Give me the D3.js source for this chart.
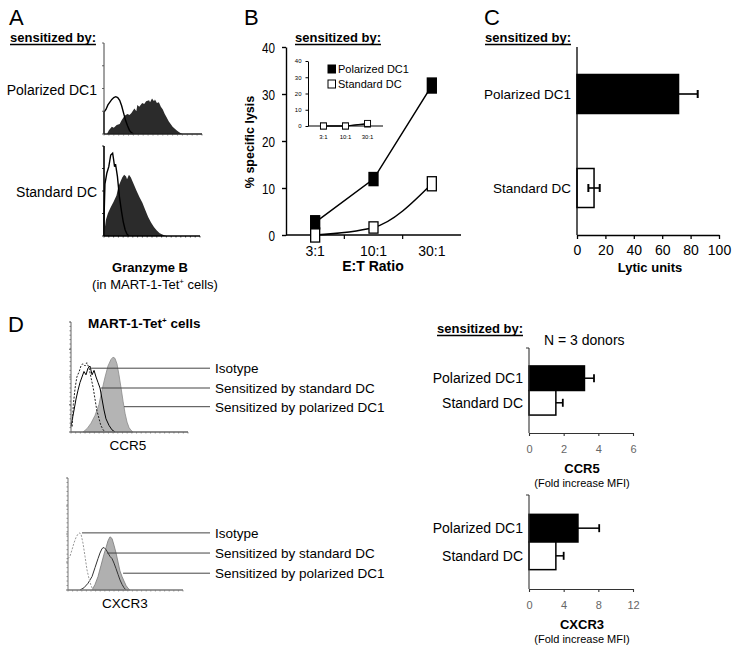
<!DOCTYPE html>
<html>
<head>
<meta charset="utf-8">
<script src="https://cdn.jsdelivr.net/npm/d3@7/dist/d3.min.js"></script>
<style>
html,body{margin:0;padding:0;background:#fff;}
svg{display:block;font-family:Arial,"Liberation Sans",Helvetica,sans-serif;}
</style>
</head>
<body>
<svg id="fig" width="739" height="650"></svg>
<script>
// ---------------- data ----------------
const groups = ["Polarized DC1", "Standard DC"];
const etRatios = ["3:1", "10:1", "30:1"];
const lysisPolarized = [2.7, 11.9, 31.8];
const lysisPolarizedErr = [1.4, 1.4, 1.6];
const lysisStandard = [0.0, 1.6, 10.9];
const lysisStandardErr = [1.5, 1.2, 1.5];
const lysisTicks = [0, 10, 20, 30, 40];
const insetPolarized = [0, 0, 1.2];
const insetStandard = [0, 0, 1.6];
const lyticUnits = [71.5, 12];
const lyticErr = [13.5, 4];
const lyticTicks = [0, 20, 40, 60, 80, 100];
const ccr5Fold = [3.2, 1.55];
const ccr5Err = [0.55, 0.4];
const ccr5Ticks = [0, 2, 4, 6];
const cxcr3Fold = [5.65, 3.1];
const cxcr3Err = [2.45, 0.9];
const cxcr3Ticks = [0, 4, 8, 12];
const histLegend = ["Isotype", "Sensitized by standard DC", "Sensitized by polarized DC1"];

// histograms: [channel 0-100, relative count 0-1]
const gzbPolarizedControl = [[0,0],[0,0.24],[2,0.27],[4,0.32],[6,0.35],[8,0.38],[10,0.4],[12,0.41],[14,0.4],[16,0.37],[18,0.31],[20,0.23],[22,0.15],[24,0.09],[26,0.04],[28,0.015],[30,0]];
const gzbPolarizedStain = [[3,0],[5,0.04],[8,0.08],[10,0.07],[13,0.1],[16,0.11],[18,0.15],[21,0.2],[24,0.22],[26,0.21],[28,0.23],[31,0.28],[33,0.25],[34,0.32],[36,0.3],[39,0.34],[41,0.33],[43,0.36],[46,0.37],[47,0.35],[49,0.39],[51,0.36],[52,0.38],[54,0.34],[56,0.35],[58,0.3],[60,0.27],[62,0.22],[64,0.18],[66,0.14],[68,0.11],[70,0.08],[72,0.06],[74,0.04],[76,0.025],[78,0.01],[80,0]];
const gzbStandardControl = [[0,0],[0,0.18],[1,0.58],[3,0.7],[5,0.77],[7,0.9],[9,0.92],[10,0.85],[11,0.77],[12,0.8],[14,0.66],[16,0.44],[18,0.29],[20,0.16],[22,0.07],[24,0.02],[26,0]];
const gzbStandardStain = [[1,0.1],[2,0.18],[4,0.25],[7,0.32],[10,0.38],[13,0.45],[15,0.55],[17,0.6],[19,0.65],[21,0.68],[23,0.66],[24,0.63],[26,0.68],[28,0.65],[30,0.6],[32,0.55],[34,0.5],[37,0.43],[40,0.37],[43,0.29],[46,0.21],[49,0.15],[52,0.1],[55,0.06],[58,0.03],[62,0.01],[65,0]];

const ccr5Isotype = [[1,0.05],[2,0.25],[3.5,0.4],[5,0.5],[7,0.55],[8.5,0.6],[10,0.62],[12,0.6],[13.5,0.63],[15.5,0.58],[17,0.5],[19,0.4],[20.5,0.3],[22,0.2],[24,0.12],[25.5,0.06],[27.5,0.02],[29,0]];
const ccr5Standard = [[0,0.05],[1.7,0.15],[2.6,0.2],[4.3,0.3],[6,0.38],[7.7,0.45],[9.4,0.5],[11.1,0.55],[12.8,0.52],[14.5,0.58],[16.2,0.6],[18,0.52],[19.7,0.56],[21.4,0.5],[23.1,0.45],[24.8,0.4],[26.5,0.3],[28.2,0.2],[29.9,0.12],[32.5,0.06],[35,0.02],[37.6,0]];
const ccr5Polarized = [[10.3,0],[13.7,0.03],[17.1,0.08],[20.5,0.15],[23.9,0.25],[26.5,0.38],[29.1,0.5],[31.6,0.6],[34.2,0.66],[35.9,0.68],[37.6,0.67],[39.3,0.62],[41,0.52],[42.8,0.4],[44.5,0.28],[46.2,0.17],[47.9,0.09],[49.6,0.04],[51.3,0.015],[53,0]];
const ccr5Leaders = [[16.2,0.58],[25.6,0.4],[45.3,0.23]];

const cxcr3Isotype = [[0,0.28],[1.7,0.3],[3.5,0.36],[5.2,0.42],[7,0.47],[8.7,0.5],[10.4,0.51],[11.3,0.5],[13,0.42],[14.8,0.3],[16.5,0.18],[18.3,0.1],[20,0.04],[21.8,0]];
const cxcr3Standard = [[10.4,0],[13.9,0.02],[17.4,0.06],[20.9,0.12],[23.5,0.2],[26.1,0.28],[27.8,0.33],[29.6,0.37],[31.3,0.38],[33.1,0.36],[34.8,0.33],[36.5,0.3],[38.3,0.28],[40,0.24],[41.8,0.19],[43.5,0.14],[45.2,0.09],[47,0.05],[48.7,0.02],[50.5,0]];
const cxcr3Polarized = [[20.9,0],[23.5,0.05],[26.1,0.12],[28.7,0.22],[31.3,0.32],[33.1,0.38],[34.8,0.44],[36.5,0.475],[38.3,0.46],[40,0.4],[41.8,0.33],[43.5,0.25],[45.2,0.17],[47,0.12],[48.7,0.08],[50.5,0.04],[52.2,0.015],[53.9,0]];
const cxcr3Leaders = [[12.2,0.51],[33.9,0.33],[47.9,0.15]];

// ---------------- helpers ----------------
const svg = d3.select("#fig");
svg.append("rect").attr("width", 739).attr("height", 650).attr("fill", "#fff");

function txt(x, y, s, size, o = {}) {
  const t = svg.append("text").attr("x", x).attr("y", y).attr("font-size", size)
    .attr("text-anchor", o.anchor || "start").attr("fill", o.fill || "#000");
  if (o.bold) t.attr("font-weight", "bold");
  if (o.family) t.attr("font-family", o.family);
  if (o.transform) t.attr("transform", o.transform);
  t.text(s);
  return t;
}
function underlined(x, y, s, size) {
  const t = txt(x, y, s, size, { bold: true });
  const w = t.node().getComputedTextLength();
  svg.append("line").attr("x1", x).attr("x2", x + w).attr("y1", y + 2.5).attr("y2", y + 2.5)
    .attr("stroke", "#000").attr("stroke-width", 1.3);
}
function tetText(x, y, size, bold, anchor) {
  const t = svg.append("text").attr("x", x).attr("y", y).attr("font-size", size)
    .attr("text-anchor", anchor).attr("fill", "#000");
  if (bold) t.attr("font-weight", "bold");
  return t;
}
function narrow(sel, f) {
  sel.each(function () {
    const w = this.getComputedTextLength();
    d3.select(this).attr("textLength", w * f).attr("lengthAdjust", "spacingAndGlyphs");
  });
}

// ---------------- panel letters ----------------
txt(9, 25, "A", 22);
txt(244, 25, "B", 22);
txt(484, 25, "C", 22);
txt(8, 332, "D", 22);

// ---------------- Panel A: granzyme B histograms ----------------
underlined(10, 42, "sensitized by:", 13);

function flowHist(cfg) {
  const x = d3.scaleLinear().domain([0, 100]).range([cfg.x0, cfg.x1]);
  const y = d3.scaleLinear().domain([0, 1]).range([cfg.base, cfg.top]);
  const g = svg.append("g");
  cfg.layers.forEach(L => {
    if (L.type === "fill") {
      g.append("path").datum(L.data)
        .attr("d", d3.area().x(d => x(d[0])).y0(y(0)).y1(d => y(d[1])))
        .attr("fill", L.fill).attr("stroke", L.stroke || "none").attr("stroke-width", L.width || 1);
    } else {
      g.append("path").datum(L.data)
        .attr("d", d3.line().x(d => x(d[0])).y(d => y(d[1])))
        .attr("fill", "none").attr("stroke", L.stroke).attr("stroke-width", L.width || 1)
        .attr("stroke-dasharray", L.dash || null);
    }
  });
  // axes
  g.append("line").attr("x1", x(0)).attr("x2", x(0)).attr("y1", y(1)).attr("y2", y(0))
    .attr("stroke", cfg.axis).attr("stroke-width", cfg.axisW || 1);
  g.append("line").attr("x1", x(0)).attr("x2", x(100)).attr("y1", y(0)).attr("y2", y(0))
    .attr("stroke", cfg.base_c || cfg.axis).attr("stroke-width", 1.3);
  const yt = d3.range(0, 1.0001, cfg.yStep);
  g.selectAll(null).data(yt).join("line")
    .attr("x1", x(0) - 2).attr("x2", x(0)).attr("y1", d => y(d)).attr("y2", d => y(d))
    .attr("stroke", cfg.axis).attr("stroke-width", 0.8);
  const xt = d3.range(0, 100.001, cfg.xStep);
  g.selectAll(null).data(xt).join("line")
    .attr("x1", d => x(d)).attr("x2", d => x(d)).attr("y1", y(0)).attr("y2", y(0) + 1.5)
    .attr("stroke", cfg.axis).attr("stroke-width", 0.7);
  return { x, y, g };
}

flowHist({ x0: 104, x1: 202, top: 43, base: 134, axis: "#444", base_c: "#222", yStep: 0.25, xStep: 5,
  layers: [
    { type: "fill", data: gzbPolarizedStain, fill: "#2b2b2b" },
    { type: "line", data: gzbPolarizedControl, stroke: "#000", width: 1.4 }
  ] });
flowHist({ x0: 104, x1: 200, top: 146, base: 236, axis: "#000", axisW: 1.6, yStep: 0.25, xStep: 5,
  layers: [
    { type: "fill", data: gzbStandardStain, fill: "#2b2b2b" },
    { type: "line", data: gzbStandardControl, stroke: "#000", width: 1.4 }
  ] });
txt(97, 95, groups[0], 14, { anchor: "end" });
txt(97, 197, groups[1], 14, { anchor: "end" });
txt(150, 272, "Granzyme B", 13, { anchor: "middle", bold: true });
{
  const t = tetText(155, 289, 13, false, "middle");
  t.append("tspan").text("(in MART-1-Tet");
  t.append("tspan").attr("font-size", 8).attr("dy", -5).text("+");
  t.append("tspan").attr("dy", 5).text(" cells)");
}

// ---------------- Panel B: % specific lysis ----------------
underlined(295, 42, "sensitized by:", 13);
{
  const x = d3.scalePoint().domain(etRatios).range([286, 461]).padding(0.5);
  const y = d3.scaleLinear().domain([0, 40]).range([235, 47]);
  const g = svg.append("g");
  const yAx = g.append("g").attr("transform", "translate(286,0)")
    .call(d3.axisLeft(y).tickValues(lysisTicks).tickSize(4).tickSizeOuter(0).tickPadding(7).tickFormat(d3.format("d")));
  yAx.selectAll("text").attr("font-size", 15).attr("fill", "#000").attr("dy", "0.36em");
  narrow(yAx.selectAll("text"), 0.78);
  yAx.selectAll("path,line").attr("stroke", "#000").attr("stroke-width", 1.4);
  g.append("line").attr("x1", 286).attr("x2", 461).attr("y1", y(0)).attr("y2", y(0))
    .attr("stroke", "#000").attr("stroke-width", 1.4);
  const mids = [0, 1].map(i => (x(etRatios[i]) + x(etRatios[i + 1])) / 2);
  g.selectAll(null).data(mids).join("line")
    .attr("x1", d => d).attr("x2", d => d).attr("y1", y(0)).attr("y2", y(0) + 4)
    .attr("stroke", "#000").attr("stroke-width", 1.2);
  g.selectAll(null).data(etRatios).join("text")
    .attr("x", d => x(d)).attr("y", 256).attr("text-anchor", "middle").attr("font-size", 14).text(d => d);
  txt(373, 271, "E:T Ratio", 14, { anchor: "middle", bold: true });
  txt(0, 0, "% specific lysis", 12.5, { anchor: "middle", bold: true, transform: "translate(254,142) rotate(-90)" });

  const series = [
    { v: lysisStandard, e: lysisStandardErr, fill: "#fff", curve: d3.curveMonotoneX },
    { v: lysisPolarized, e: lysisPolarizedErr, fill: "#000", curve: d3.curveLinear }
  ];
  series.forEach(s => {
    const pts = etRatios.map((c, i) => ({ c, v: s.v[i], e: s.e[i] }));
    const line = d3.line().x(d => x(d.c)).y(d => y(d.v)).curve(s.curve);
    g.append("path").datum(pts).attr("d", line).attr("fill", "none").attr("stroke", "#000").attr("stroke-width", 1.5);
  });
  series.forEach(s => {
    const pts = etRatios.map((c, i) => ({ c, v: s.v[i], e: s.e[i] }));
    g.selectAll(null).data(pts).join("rect")
      .attr("x", d => x(d.c) - 4.5).attr("width", 9)
      .attr("y", d => Math.min(y(d.v + d.e), y(d.v) - 4.5))
      .attr("height", d => Math.max(y(d.v - d.e) - y(d.v + d.e), 9))
      .attr("fill", s.fill).attr("stroke", "#000").attr("stroke-width", 1.3);
  });

  // inset
  const xi = d3.scalePoint().domain(etRatios).range([308, 383]).padding(0.7);
  const yi = d3.scaleLinear().domain([0, 40]).range([126, 61]);
  const yiAx = g.append("g").attr("transform", "translate(308,0)")
    .call(d3.axisLeft(yi).tickValues(lysisTicks).tickSize(2.5).tickSizeOuter(0).tickPadding(4));
  yiAx.selectAll("text").attr("font-size", 6).attr("fill", "#000");
  yiAx.selectAll("path,line").attr("stroke", "#000").attr("stroke-width", 1);
  g.append("line").attr("x1", 308).attr("x2", 383).attr("y1", yi(0)).attr("y2", yi(0)).attr("stroke", "#000").attr("stroke-width", 1.1);
  g.selectAll(null).data(etRatios).join("text")
    .attr("x", d => xi(d)).attr("y", 139).attr("text-anchor", "middle").attr("font-size", 6).text(d => d);
  const linei = d3.line().x(d => xi(d.c)).y(d => yi(d.v));
  [{ v: insetPolarized, fill: "#000" }, { v: insetStandard, fill: "#fff" }].forEach(s => {
    const pts = etRatios.map((c, i) => ({ c, v: s.v[i] }));
    g.append("path").datum(pts).attr("d", linei).attr("fill", "none").attr("stroke", "#000").attr("stroke-width", 1);
    g.selectAll(null).data(pts).join("rect")
      .attr("x", d => xi(d.c) - 3).attr("y", d => yi(d.v) - 3).attr("width", 6).attr("height", 6)
      .attr("fill", s.fill).attr("stroke", "#000").attr("stroke-width", 0.9);
  });

  // legend
  [["#000", groups[0]], ["#fff", groups[1]]].forEach((L, i) => {
    g.append("rect").attr("x", 328).attr("y", 65 + i * 15).attr("width", 7.5).attr("height", 8)
      .attr("fill", L[0]).attr("stroke", "#000").attr("stroke-width", 1);
    g.append("text").attr("x", 338).attr("y", 73 + i * 15).attr("font-size", 11).text(L[1]);
  });
}

// ---------------- Panel C: lytic units ----------------
underlined(485, 42, "sensitized by:", 13);
{
  const x = d3.scaleLinear().domain([0, 100]).range([577, 719]);
  const y = d3.scaleBand().domain(groups).range([47, 235]).paddingInner(0.585).paddingOuter(0.2925);
  const g = svg.append("g");
  g.selectAll(null).data(groups).join("rect")
    .attr("x", x(0)).attr("y", d => y(d)).attr("width", (d, i) => x(lyticUnits[i]) - x(0))
    .attr("height", y.bandwidth()).attr("fill", (d, i) => i === 0 ? "#000" : "#fff")
    .attr("stroke", "#000").attr("stroke-width", 1.5);
  groups.forEach((d, i) => {
    const cy = y(d) + y.bandwidth() / 2;
    const lo = i === 0 ? lyticUnits[i] : lyticUnits[i] - lyticErr[i];
    const hi = lyticUnits[i] + lyticErr[i];
    g.append("line").attr("x1", x(lo)).attr("x2", x(hi)).attr("y1", cy).attr("y2", cy).attr("stroke", "#000").attr("stroke-width", 1.6);
    g.append("line").attr("x1", x(hi)).attr("x2", x(hi)).attr("y1", cy - 4).attr("y2", cy + 4).attr("stroke", "#000").attr("stroke-width", 2);
    if (i === 1) g.append("line").attr("x1", x(lo)).attr("x2", x(lo)).attr("y1", cy - 4).attr("y2", cy + 4).attr("stroke", "#000").attr("stroke-width", 2);
    txt(571, cy + 5, d, 13.5, { anchor: "end" });
  });
  g.append("line").attr("x1", 577).attr("x2", 577).attr("y1", 47).attr("y2", 235).attr("stroke", "#000").attr("stroke-width", 1.3);
  const xAx = g.append("g").attr("transform", "translate(0,235)")
    .call(d3.axisBottom(x).tickValues(lyticTicks).tickSize(4).tickSizeOuter(0).tickPadding(6));
  xAx.selectAll("text").attr("font-size", 14).attr("fill", "#000");
  xAx.selectAll("path,line").attr("stroke", "#000").attr("stroke-width", 1.3);
  txt(650, 272, "Lytic units", 13, { anchor: "middle", bold: true });
}

// ---------------- Panel D: chemokine receptor histograms ----------------
{
  const t = tetText(88, 328, 13.5, true, "start");
  t.append("tspan").text("MART-1-Tet");
  t.append("tspan").attr("font-size", 8).attr("dy", -5).text("+");
  t.append("tspan").attr("dy", 5).text(" cells");
}
function dottedAxisHist(cfg) {
  const h = flowHist(cfg);
  const ticks = d3.range(0, 1.0001, 0.04);
  h.g.selectAll(null).data(ticks).join("line")
    .attr("x1", h.x(0) - 1.5).attr("x2", h.x(0)).attr("y1", d => h.y(d)).attr("y2", d => h.y(d))
    .attr("stroke", cfg.axis).attr("stroke-width", 0.8);
  cfg.leaders.forEach((p, i) => {
    h.g.append("line").attr("x1", h.x(p[0])).attr("x2", 210).attr("y1", h.y(p[1])).attr("y2", h.y(p[1]))
      .attr("stroke", "#444").attr("stroke-width", 1);
    txt(215, h.y(p[1]) + 5, histLegend[i], 13.5);
  });
  return h;
}
dottedAxisHist({ x0: 71, x1: 188, top: 322, base: 432, axis: "#666", yStep: 0.25, xStep: 4,
  leaders: ccr5Leaders,
  layers: [
    { type: "fill", data: ccr5Polarized, fill: "#b4b4b4", stroke: "#8a8a8a", width: 0.8 },
    { type: "line", data: ccr5Standard, stroke: "#000", width: 1 },
    { type: "line", data: ccr5Isotype, stroke: "#222", width: 1, dash: "2,1.5" }
  ] });
txt(128, 450, "CCR5", 13.5, { anchor: "middle" });

dottedAxisHist({ x0: 68, x1: 183, top: 478, base: 590, axis: "#777", yStep: 0.25, xStep: 4,
  leaders: cxcr3Leaders,
  layers: [
    { type: "fill", data: cxcr3Polarized, fill: "#b0b0b0", stroke: "#7a7a7a", width: 0.8 },
    { type: "line", data: cxcr3Standard, stroke: "#333", width: 1 },
    { type: "line", data: cxcr3Isotype, stroke: "#999", width: 1, dash: "2,1.5" }
  ] });
txt(125, 608, "CXCR3", 13.5, { anchor: "middle" });

// ---------------- Panel D right: fold increase MFI ----------------
underlined(437, 333, "sensitized by:", 13);
txt(544, 345, "N = 3 donors", 14);

function foldBars(cfg) {
  const x = d3.scaleLinear().domain(cfg.domain).range([529, 633]);
  const y = d3.scaleBand().domain(groups).range([cfg.top, cfg.base]).paddingInner(0).paddingOuter(cfg.pad);
  const g = svg.append("g");
  g.selectAll(null).data(groups).join("rect")
    .attr("x", x(0)).attr("y", d => y(d)).attr("width", (d, i) => x(cfg.values[i]) - x(0))
    .attr("height", y.bandwidth()).attr("fill", (d, i) => i === 0 ? "#000" : "#fff")
    .attr("stroke", "#000").attr("stroke-width", 1.5);
  groups.forEach((d, i) => {
    const cy = y(d) + y.bandwidth() / 2;
    const hi = cfg.values[i] + cfg.errs[i];
    g.append("line").attr("x1", x(cfg.values[i])).attr("x2", x(hi)).attr("y1", cy).attr("y2", cy).attr("stroke", "#000").attr("stroke-width", 1.5);
    g.append("line").attr("x1", x(hi)).attr("x2", x(hi)).attr("y1", cy - 4).attr("y2", cy + 4).attr("stroke", "#000").attr("stroke-width", 1.8);
    txt(523, cy + 5, d, 14, { anchor: "end" });
  });
  g.append("line").attr("x1", 529).attr("x2", 529).attr("y1", cfg.top).attr("y2", cfg.base).attr("stroke", "#333").attr("stroke-width", 1.1);
  g.append("line").attr("x1", 526).attr("x2", 529).attr("y1", cfg.top).attr("y2", cfg.top).attr("stroke", "#333").attr("stroke-width", 1);
  const xAx = g.append("g").attr("transform", `translate(0,${cfg.base})`)
    .call(d3.axisBottom(x).tickValues(cfg.ticks).tickSize(3).tickSizeOuter(0).tickPadding(9).tickFormat(d3.format("d")));
  xAx.selectAll("text").attr("font-size", 11).attr("fill", "#666");
  xAx.selectAll("path,line").attr("stroke", "#333").attr("stroke-width", 1.1);
  txt(582, cfg.base + 40, cfg.title, 13, { anchor: "middle", bold: true });
  txt(582, cfg.base + 54, "(Fold increase MFI)", 11, { anchor: "middle" });
}
foldBars({ domain: [0, 6], top: 348, base: 433, pad: 0.73, values: ccr5Fold, errs: ccr5Err, ticks: ccr5Ticks, title: "CCR5" });
foldBars({ domain: [0, 12], top: 495, base: 589, pad: 0.7, values: cxcr3Fold, errs: cxcr3Err, ticks: cxcr3Ticks, title: "CXCR3" });
</script>
</body>
</html>
